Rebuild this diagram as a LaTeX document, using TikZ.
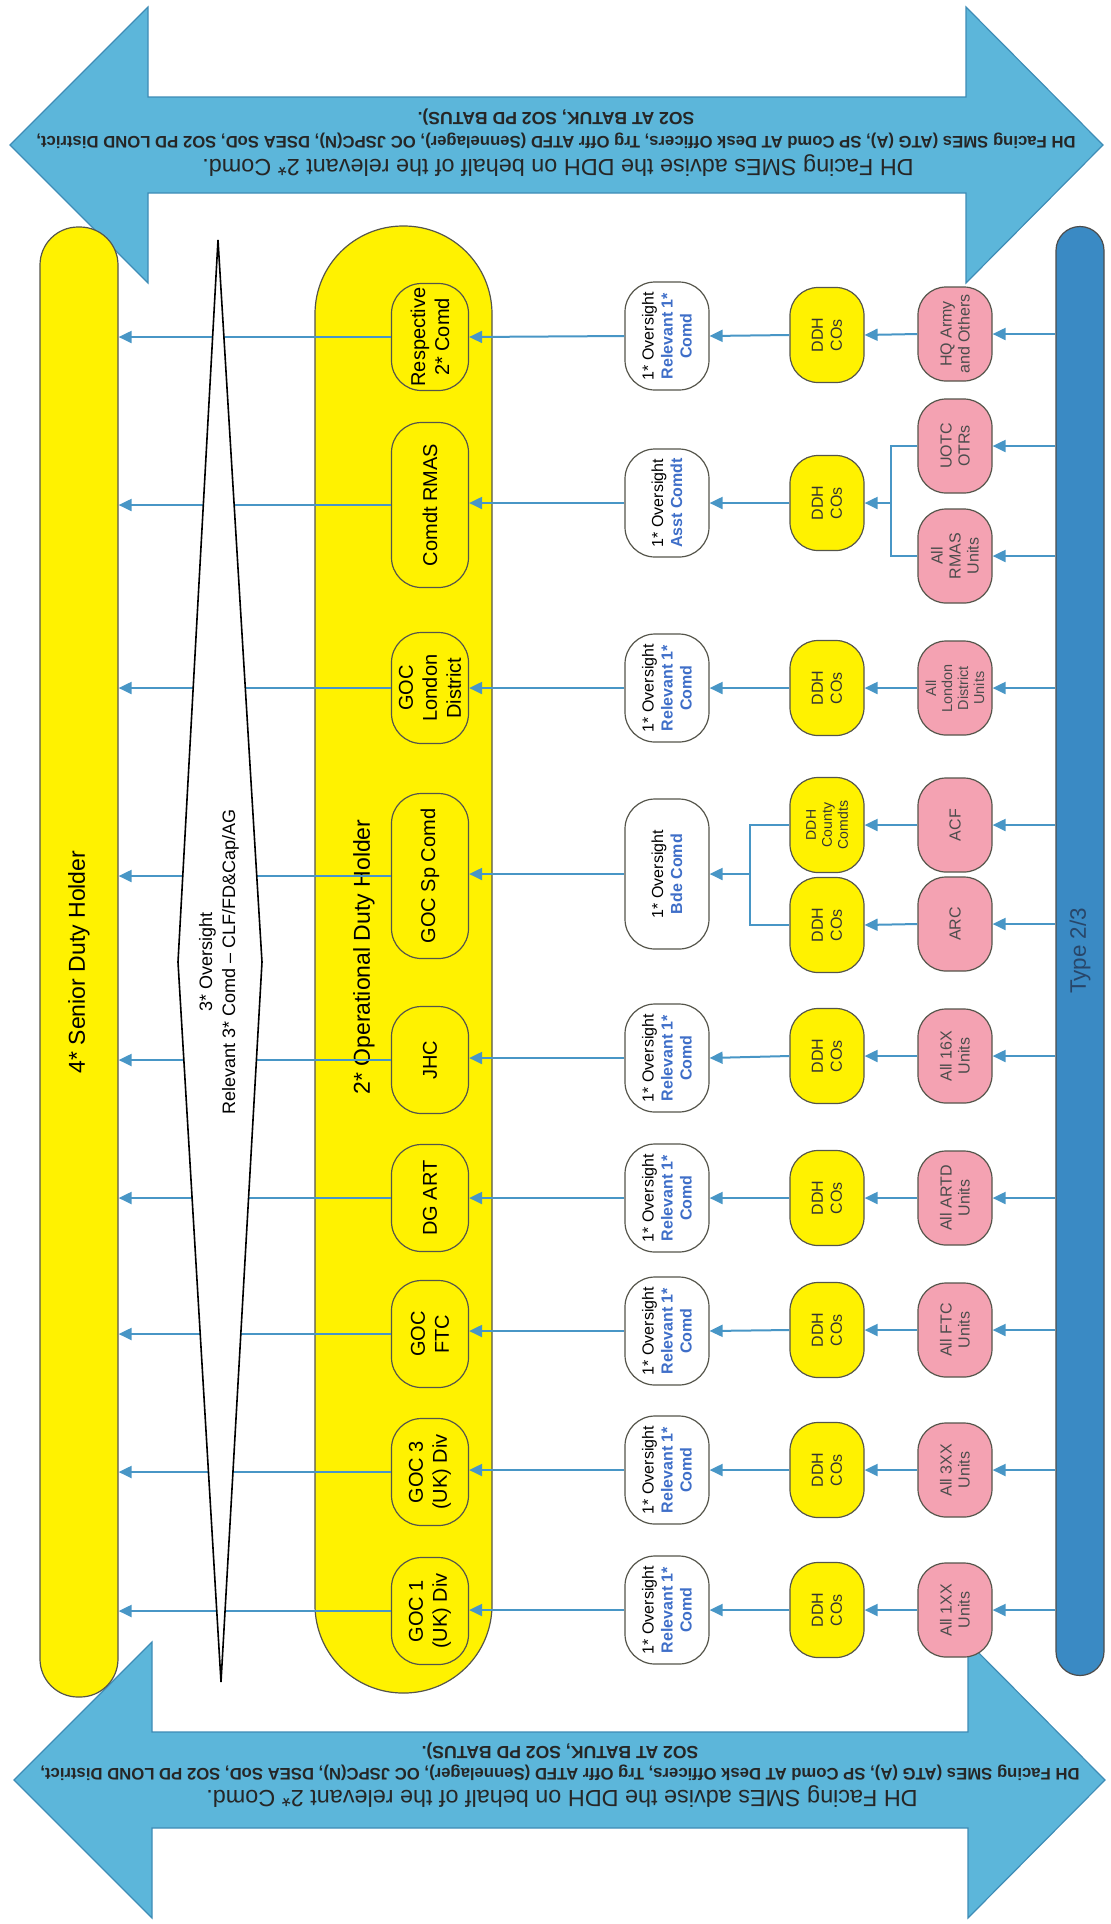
\documentclass[tikz,border=0pt]{standalone}
\usepackage{fontspec}
\setmainfont{Liberation Sans}
\usepackage{xcolor}
\usetikzlibrary{arrows.meta}
\definecolor{dhyellow}{RGB}{255,242,0}
\definecolor{unitpink}{RGB}{244,162,178}
\definecolor{smeblue}{RGB}{92,182,218}
\definecolor{smeedge}{RGB}{62,140,182}
\definecolor{typeblue}{RGB}{58,138,196}
\definecolor{typetext}{RGB}{40,70,105}
\definecolor{linkblue}{RGB}{72,150,198}
\definecolor{relblue}{RGB}{62,110,200}
\definecolor{nodeedge}{RGB}{85,85,75}
\newcommand{\fsz}[2]{\fontsize{#1}{#2}\selectfont}
\newcommand{\rel}[1]{\textcolor{relblue}{\bfseries #1}}

\begin{document}
\begin{tikzpicture}[x=0.5pt,y=-0.5pt]
\tikzset{
  smearrow/.style={draw=smeedge, line width=0.6pt, fill=smeblue},
  smemain/.style={rotate=180, inner sep=0pt, text=black!85, font=\fsz{11.7}{13}},
  smelist/.style={rotate=180, inner sep=0pt, text=black!85, font=\bfseries\fsz{8.35}{9}},
  holderbar/.style={rotate=90, draw=nodeedge, line width=0.6pt, fill=dhyellow, rounded corners=19pt,
    minimum width=735pt, minimum height=39pt, font=\fsz{11.5}{13}},
  typebar/.style={rotate=90, draw=black!70, line width=0.6pt, fill=typeblue, rounded corners=12pt,
    minimum width=724.5pt, minimum height=24pt, text=typetext, font=\fsz{11.2}{13}},
  odhcapsule/.style={draw=nodeedge, line width=0.6pt, fill=dhyellow, rounded corners=44pt,
    minimum width=88.5pt, minimum height=733.5pt},
  twostar/.style={rotate=90, draw=nodeedge, line width=0.6pt, fill=dhyellow, rounded corners=15pt,
    minimum width=53.5pt, minimum height=38.5pt, inner sep=1pt, align=center, font=\fsz{10}{12}},
  onestar/.style={rotate=90, draw=nodeedge, line width=0.6pt, fill=white, rounded corners=15pt,
    minimum width=54pt, minimum height=42pt, inner sep=1pt, align=center, font=\fsz{8}{9.5}},
  ddhbox/.style={rotate=90, draw=nodeedge, line width=0.6pt, fill=dhyellow, rounded corners=14pt,
    minimum width=47.5pt, minimum height=37pt, inner sep=1pt, align=center, text=black!80, font=\fsz{8}{9.5}},
  unitbox/.style={rotate=90, draw=nodeedge, line width=0.6pt, fill=unitpink, rounded corners=14pt,
    minimum width=47pt, minimum height=37pt, inner sep=1pt, align=center, text=black!70, font=\fsz{8}{9}},
  link/.style={draw=linkblue, line width=1pt, -{Triangle[length=6.5pt,width=6pt]}},
  joinline/.style={draw=linkblue, line width=1pt},
  oversight/.style={draw=black, line width=0.8pt, fill=white}
}
\useasboundingbox (0,0) rectangle (1111,1924);

\draw[smearrow] (10,145) -- (148,7) -- (148,97) -- (966,97) -- (966,7) -- (1103,145) -- (966,283)
  -- (966,193) -- (148,193) -- (148,283) -- cycle;
\node[smemain] (topa) at (558,166) {DH Facing SMEs advise the DDH on behalf of the relevant 2* Comd.};
\node[smelist] (topb) at (556,141) {DH Facing SMEs (ATG (A), SP Comd AT Desk Officers, Trg Offr ATFD (Sennelager), OC JSPC(N), DSEA SoD, SO2 PD LOND District,};
\node[smelist, font=\bfseries\fsz{8.8}{9}] (topc) at (556,117) {SO2 AT BATUK, SO2 PD BATUS).};

\draw[smearrow] (14,1780) -- (152,1642) -- (152,1732) -- (968,1732) -- (968,1642) -- (1105,1780) -- (968,1918)
  -- (968,1828) -- (152,1828) -- (152,1918) -- cycle;
\node[smemain] (bota) at (562,1797) {DH Facing SMEs advise the DDH on behalf of the relevant 2* Comd.};
\node[smelist] (botb) at (560,1773) {DH Facing SMEs (ATG (A), SP Comd AT Desk Officers, Trg Offr ATFD (Sennelager), OC JSPC(N), DSEA SoD, SO2 PD LOND District,};
\node[smelist, font=\bfseries\fsz{8.8}{9}] (botc) at (560,1751) {SO2 AT BATUK, SO2 PD BATUS).};

\node[holderbar] (sdh) at (79,962) {4* Senior Duty Holder};
\node[odhcapsule] (odh) at (403.5,959.5) {};
\node[rotate=90, font=\fsz{11.5}{13}] (odhlabel) at (364,957) {2* Operational Duty Holder};
\node[typebar] (type) at (1080,951) {Type 2/3};

\node[twostar] (resp) at (430,337) {Respective\\2* Comd};
\node[twostar, minimum width=82.5pt] (rmas) at (430,505) {Comdt RMAS};
\node[twostar, minimum width=55.5pt] (lond) at (430,688) {GOC\\London\\District};
\node[twostar, minimum width=82.5pt] (spc) at (430,876) {GOC Sp Comd};
\node[twostar] (jhc) at (430,1060) {JHC};
\node[twostar] (dgart) at (430,1198) {DG ART};
\node[twostar] (ftc) at (430,1334) {GOC\\FTC};
\node[twostar] (div3) at (430,1472) {GOC 3\\(UK) Div};
\node[twostar] (div1) at (430,1611) {GOC 1\\(UK) Div};

\node[onestar] (ov1) at (667,336) {1* Oversight\\\rel{Relevant 1*}\\\rel{Comd}};
\node[onestar] (ov2) at (667,503) {1* Oversight\\\rel{Asst Comdt}};
\node[onestar] (ov3) at (667,688) {1* Oversight\\\rel{Relevant 1*}\\\rel{Comd}};
\node[onestar, minimum width=75pt] (ov4) at (667,874) {1* Oversight\\\rel{Bde Comd}};
\node[onestar] (ov5) at (667,1058) {1* Oversight\\\rel{Relevant 1*}\\\rel{Comd}};
\node[onestar] (ov6) at (667,1198) {1* Oversight\\\rel{Relevant 1*}\\\rel{Comd}};
\node[onestar] (ov7) at (667,1331) {1* Oversight\\\rel{Relevant 1*}\\\rel{Comd}};
\node[onestar] (ov8) at (667,1470) {1* Oversight\\\rel{Relevant 1*}\\\rel{Comd}};
\node[onestar] (ov9) at (667,1610) {1* Oversight\\\rel{Relevant 1*}\\\rel{Comd}};

\node[ddhbox] (d1) at (827,335) {DDH\\COs};
\node[ddhbox] (d2) at (827,503) {DDH\\COs};
\node[ddhbox] (d3) at (827,688) {DDH\\COs};
\node[ddhbox, font=\fsz{7}{8}] (d4a) at (827,825) {DDH\\County\\Comdts};
\node[ddhbox] (d4b) at (827,925) {DDH\\COs};
\node[ddhbox] (d5) at (827,1056) {DDH\\COs};
\node[ddhbox] (d6) at (827,1198) {DDH\\COs};
\node[ddhbox] (d7) at (827,1330) {DDH\\COs};
\node[ddhbox] (d8) at (827,1470) {DDH\\COs};
\node[ddhbox] (d9) at (827,1610) {DDH\\COs};

\node[unitbox] (u1) at (955,334) {HQ Army\\and Others};
\node[unitbox] (u2a) at (955,446) {UOTC\\OTRs};
\node[unitbox] (u2b) at (955,556) {All\\RMAS\\Units};
\node[unitbox, font=\fsz{7.2}{8}] (u3) at (955,688) {All\\London\\District\\Units};
\node[unitbox] (u4a) at (955,825) {ACF};
\node[unitbox] (u4b) at (955,924) {ARC};
\node[unitbox] (u5) at (955,1056) {All 16X\\Units};
\node[unitbox] (u6) at (955,1198) {All ARTD\\Units};
\node[unitbox] (u7) at (955,1330) {All FTC\\Units};
\node[unitbox] (u8) at (955,1470) {All 3XX\\Units};
\node[unitbox] (u9) at (955,1610) {All 1XX\\Units};

\coordinate (j2) at (891,503);
\coordinate (j4) at (750,874);

\draw[link] (type.north |- u1) -- (u1.south);
\draw[link] (u1.north) -- (d1.south);
\draw[link] (d1.north) -- (ov1.south);
\draw[link] (ov1.north) -- (resp.south);
\draw[link] (resp.north) -- (sdh.south |- resp);

\draw[link] (type.north |- u2a) -- (u2a.south);
\draw[link] (type.north |- u2b) -- (u2b.south);
\draw[joinline] (u2a.north) -| (j2) |- (u2b.north);
\draw[link] (j2) -- (d2.south);
\draw[link] (d2.north) -- (ov2.south);
\draw[link] (ov2.north) -- (rmas.south |- ov2);
\draw[link] (rmas.north) -- (sdh.south |- rmas);

\draw[link] (type.north |- u3) -- (u3.south);
\draw[link] (u3.north) -- (d3.south);
\draw[link] (d3.north) -- (ov3.south);
\draw[link] (ov3.north) -- (lond.south);
\draw[link] (lond.north) -- (sdh.south |- lond);

\draw[link] (type.north |- u4a) -- (u4a.south);
\draw[link] (type.north |- u4b) -- (u4b.south);
\draw[link] (u4a.north) -- (d4a.south);
\draw[link] (u4b.north) -- (d4b.south);
\draw[joinline] (d4a.north) -| (j4) |- (d4b.north);
\draw[link] (j4) -- (ov4.south);
\draw[link] (ov4.north) -- (spc.south |- ov4);
\draw[link] (spc.north) -- (sdh.south |- spc);

\draw[link] (type.north |- u5) -- (u5.south);
\draw[link] (u5.north) -- (d5.south);
\draw[link] (d5.north) -- (ov5.south);
\draw[link] (ov5.north) -- (jhc.south |- ov5);
\draw[link] (jhc.north) -- (sdh.south |- jhc);

\draw[link] (type.north |- u6) -- (u6.south);
\draw[link] (u6.north) -- (d6.south);
\draw[link] (d6.north) -- (ov6.south);
\draw[link] (ov6.north) -- (dgart.south);
\draw[link] (dgart.north) -- (sdh.south |- dgart);

\draw[link] (type.north |- u7) -- (u7.south);
\draw[link] (u7.north) -- (d7.south);
\draw[link] (d7.north) -- (ov7.south);
\draw[link] (ov7.north) -- (ftc.south |- ov7);
\draw[link] (ftc.north) -- (sdh.south |- ftc);

\draw[link] (type.north |- u8) -- (u8.south);
\draw[link] (u8.north) -- (d8.south);
\draw[link] (d8.north) -- (ov8.south);
\draw[link] (ov8.north) -- (div3.south |- ov8);
\draw[link] (div3.north) -- (sdh.south |- div3);

\draw[link] (type.north |- u9) -- (u9.south);
\draw[link] (u9.north) -- (d9.south);
\draw[link] (d9.north) -- (ov9.south);
\draw[link] (ov9.north) -- (div1.south |- ov9);
\draw[link] (div1.north) -- (sdh.south |- div1);

\draw[oversight] (218,240) -- (262,962) -- (221,1682) -- (178,962) -- cycle;
\node[rotate=90, align=center, font=\fsz{9}{11.5}] (ov3star) at (219,962) {3* Oversight\\Relevant 3* Comd – CLF/FD\&Cap/AG};
\end{tikzpicture}
\end{document}
